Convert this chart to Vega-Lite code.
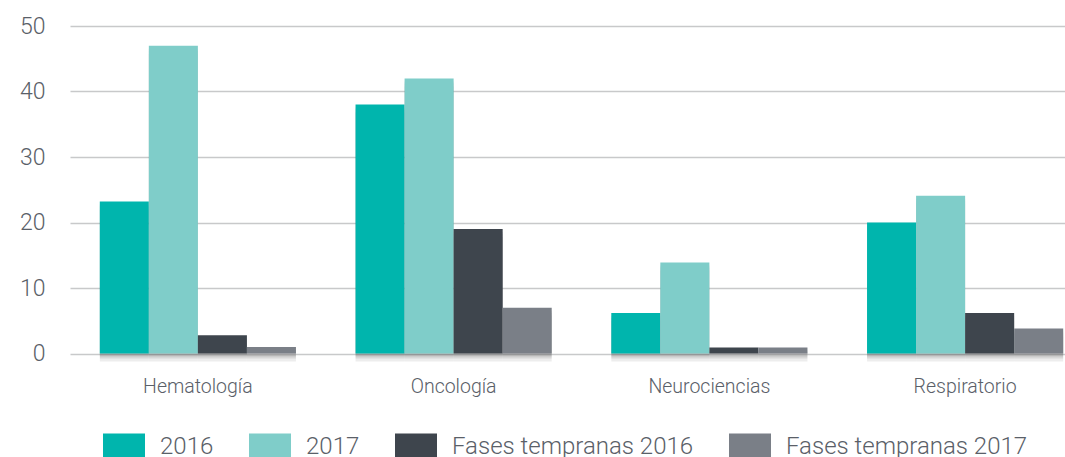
{
  "$schema": "https://vega.github.io/schema/vega-lite/v6.json",
  "autosize": {"type": "none"},
  "padding": {"left": 70, "top": 26, "right": 0, "bottom": 104},
  "width": 1023,
  "height": 327.5,
  "config": {
    "view": {"stroke": null},
    "font": "Roboto",
    "axis": {"labelFont": "Roboto", "labelFontWeight": 300, "labelColor": "#5a6068"},
    "legend": {"labelFont": "Roboto", "labelFontWeight": 300, "labelColor": "#5a6068"}
  },
  "data": {
    "values": [
      {"area": "Hematología", "serie": "2016", "valor": 23.2},
      {"area": "Hematología", "serie": "2017", "valor": 47},
      {"area": "Hematología", "serie": "Fases tempranas 2016", "valor": 2.8},
      {"area": "Hematología", "serie": "Fases tempranas 2017", "valor": 1},
      {"area": "Oncología", "serie": "2016", "valor": 38},
      {"area": "Oncología", "serie": "2017", "valor": 42},
      {"area": "Oncología", "serie": "Fases tempranas 2016", "valor": 19},
      {"area": "Oncología", "serie": "Fases tempranas 2017", "valor": 7},
      {"area": "Neurociencias", "serie": "2016", "valor": 6.2},
      {"area": "Neurociencias", "serie": "2017", "valor": 13.9},
      {"area": "Neurociencias", "serie": "Fases tempranas 2016", "valor": 0.9},
      {"area": "Neurociencias", "serie": "Fases tempranas 2017", "valor": 0.9},
      {"area": "Respiratorio", "serie": "2016", "valor": 20},
      {"area": "Respiratorio", "serie": "2017", "valor": 24.1},
      {"area": "Respiratorio", "serie": "Fases tempranas 2016", "valor": 6.2},
      {"area": "Respiratorio", "serie": "Fases tempranas 2017", "valor": 3.8}
    ]
  },
  "encoding": {
    "x": {
      "field": "area", "type": "nominal", "sort": null,
      "scale": {"paddingInner": 0.233, "paddingOuter": 0.1165},
      "axis": {"title": null, "labelAngle": 0, "ticks": false, "domain": false, "labelFontSize": 19.5, "labelPadding": 24}
    },
    "xOffset": {"field": "serie", "type": "nominal", "sort": null, "scale": {"paddingInner": 0, "paddingOuter": 0}},
    "y": {
      "field": "valor", "type": "quantitative",
      "scale": {"domain": [0, 50], "nice": false},
      "axis": {"title": null, "values": [0, 10, 20, 30, 40, 50], "ticks": false, "domain": false, "labelFontSize": 23, "labelPadding": 25, "gridColor": "#c8c9ca", "gridWidth": 1.5}
    }
  },
  "layer": [
    {"mark": {"type": "bar", "color": "#000000", "opacity": 0.07, "xOffset": 9, "yOffset": 8}},
    {"mark": {"type": "bar", "color": "#000000", "opacity": 0.09, "xOffset": 6, "yOffset": 5}},
    {"mark": {"type": "bar", "color": "#000000", "opacity": 0.1, "xOffset": 3, "yOffset": 3}},
    {
      "mark": {"type": "bar"},
      "encoding": {
        "color": {
          "field": "serie", "type": "nominal", "sort": null,
          "scale": {"domain": ["2016", "2017", "Fases tempranas 2016", "Fases tempranas 2017"], "range": ["#00b5ad", "#7fcdc9", "#3e454d", "#7a7f87"]},
          "legend": {
            "title": null, "orient": "none", "direction": "horizontal",
            "legendX": 33, "legendY": 400,
            "symbolType": "M-1,-0.667H1V0.667H-1Z", "symbolSize": 1764, "symbolStrokeWidth": 0,
            "labelFontSize": 24, "labelOffset": 15, "columnPadding": 35, "labelLimit": 400
          }
        }
      }
    }
  ]
}
